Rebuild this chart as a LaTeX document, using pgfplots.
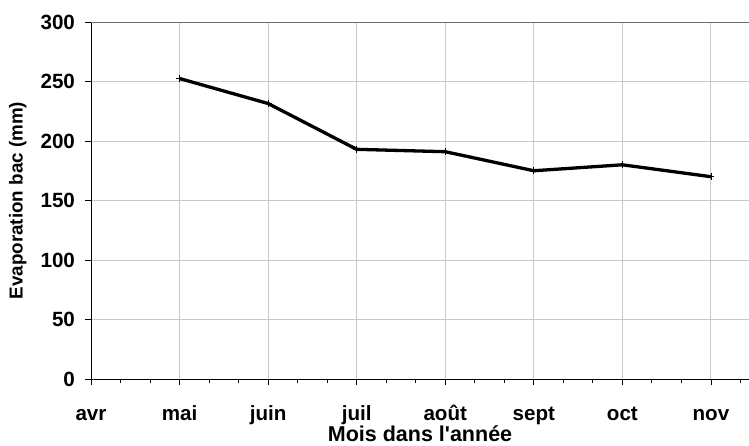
\documentclass[border=0pt]{standalone}
\usepackage{fontspec}
\setmainfont{Liberation Sans}
\usepackage{pgfplots}
\pgfplotsset{compat=1.18}

\definecolor{gridgray}{RGB}{200,200,200}
\definecolor{axisgray}{RGB}{110,110,110}

\begin{document}
\fontsize{20.6}{24}\selectfont\bfseries
\begin{tikzpicture}
\begin{axis}[
    at={(0pt,0pt)}, anchor=south west,
    scale only axis,
    width=658pt, height=357pt,
    xmin=0, xmax=7.43,
    ymin=0, ymax=300,
    axis x line*=bottom,
    axis y line*=left,
    axis line style={-, black, line width=0.9pt},
    xtick={0,...,7},
    xticklabels={avr,mai,juin,juil,août,sept,oct,nov},
    minor xtick={0.333,0.667,1.333,1.667,2.333,2.667,3.333,3.667,4.333,4.667,5.333,5.667,6.333,6.667,7.333},
    ytick={0,50,...,300},
    tick align=outside,
    major tick length=6pt,
    minor tick length=4.5pt,
    tick style={black, line width=0.8pt},
    xmajorgrids, ymajorgrids,
    major grid style={gridgray, line width=0.9pt},
    xticklabel style={yshift=-16.9pt, text height=1.6ex, text depth=0.2ex, inner sep=1pt},
    yticklabel style={xshift=-3pt},
    xlabel={Mois dans l\textquotesingle année},
    ylabel={Evaporation bac (mm)},
    xlabel style={at={(axis description cs:0.5,0)}, anchor=base, inner sep=0pt,
        yshift=-63pt, font=\fontsize{21.5}{24}\selectfont\bfseries},
    ylabel style={yshift=0pt, font=\fontsize{18.8}{22}\selectfont\bfseries},
    /pgf/number format/assume math mode=true,
    clip=false,
]
\addplot[black, line width=3.3pt, mark=+, mark size=3.5pt,
    mark options={line width=0.8pt}] coordinates {
    (1, 252.5)
    (2, 231.5)
    (3, 193)
    (4, 191)
    (5, 175)
    (6, 180)
    (7, 170)
};
\draw[axisgray, line width=0.9pt] (axis cs:0,300) -- (axis cs:7.43,300);
\end{axis}
\pgfresetboundingbox
\path[use as bounding box] (-91pt,-67pt) rectangle (658pt,379pt);
\end{tikzpicture}
\end{document}
